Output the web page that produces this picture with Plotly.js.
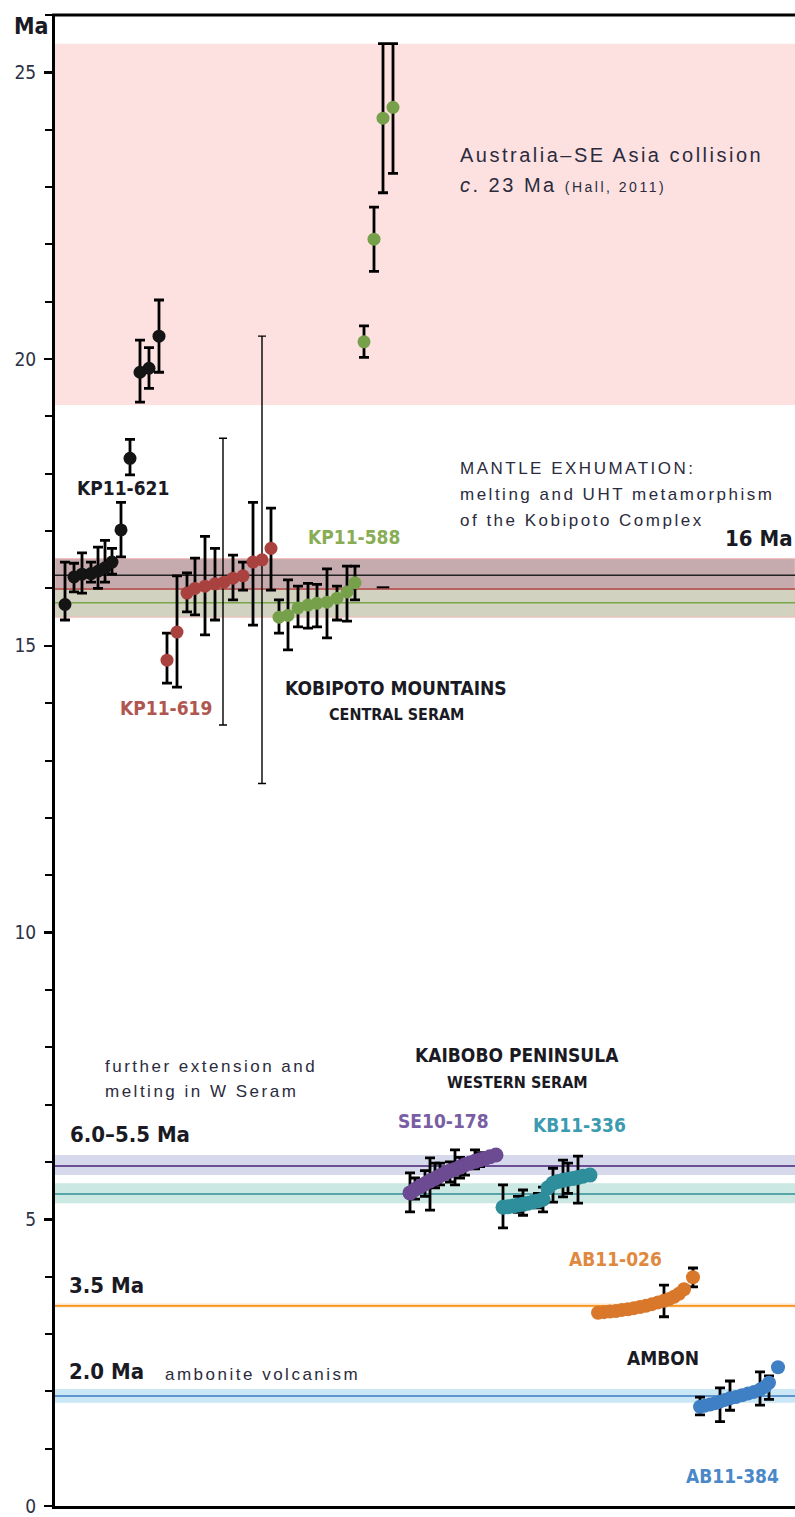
<!DOCTYPE html>
<html>
<head>
<meta charset="utf-8">
<script src="https://cdn.plot.ly/plotly-3.0.1.min.js"></script>
<style>
html,body{margin:0;padding:0;background:#fff;overflow:hidden}
#chart{width:795px;height:1517px}
</style>
</head>
<body>
<div id="chart"></div>
<script>
// ---------------- DATA ----------------
// x = analysis position along the (unlabelled) horizontal axis, y = age in Ma
// KP11-621 (black)
const kp621_pos = [10, 19, 27, 36, 43, 50, 57, 66, 75, 85, 94, 104];
const kp621_age = [15.72, 16.20, 16.25, 16.26, 16.30, 16.36, 16.46, 17.02, 18.27, 19.77, 19.84, 20.40];
const kp621_hi  = [16.46, 16.44, 16.62, 16.46, 16.72, 16.84, 16.70, 17.50, 18.60, 20.33, 20.20, 21.03];
const kp621_lo  = [15.45, 15.94, 15.92, 16.11, 16.00, 16.11, 16.25, 16.55, 17.98, 19.25, 19.49, 19.77];

// KP11-619 (red)
const kp619_pos = [112, 122, 132, 140, 150, 160, 169, 178, 188, 198, 207, 216];
const kp619_age = [14.75, 15.24, 15.92, 16.00, 16.04, 16.08, 16.11, 16.18, 16.22, 16.46, 16.50, 16.70];
const kp619_hi  = [15.22, 16.22, 16.27, 16.53, 16.91, 16.70, null, 16.58, 16.46, 17.50, null, 17.40];
const kp619_lo  = [14.35, 14.28, 15.59, 15.54, 15.19, 15.45, null, 15.80, 15.97, 15.36, null, 15.97];
// KP11-619 analyses with very large uncertainties (thin bars)
const kp619w_pos = [168, 207];
const kp619w_age = [16.11, 16.50];
const kp619w_hi  = [18.62, 20.40];
const kp619w_lo  = [13.62, 12.60];

// KP11-588 (green)
const kp588_pos = [224, 233, 243, 253, 262, 272, 282, 292, 300, 309, 319, 328, 338];
const kp588_age = [15.50, 15.53, 15.66, 15.71, 15.74, 15.76, 15.83, 15.94, 16.10, 20.30, 22.09, 24.20, 24.39];
const kp588_hi  = [15.80, 16.15, 16.04, 16.09, 16.07, 16.34, 16.04, 16.39, 16.39, 20.58, 22.65, 25.50, 25.50];
const kp588_lo  = [15.22, 14.93, 15.33, 15.31, 15.33, 15.14, 15.45, 15.43, 15.80, 20.03, 21.53, 22.90, 23.24];

// isolated tick mark
const stray_pos = [328];
const stray_age = [16.02];

// SE10-178 (purple)
const se178_pos = [355, 360, 365, 370, 375, 380, 385, 390, 395, 400, 405, 410, 415, 420, 425, 430, 435, 441];
const se178_age = [5.46, 5.52, 5.57, 5.62, 5.67, 5.71, 5.76, 5.80, 5.84, 5.87, 5.91, 5.95, 5.98, 6.01, 6.04, 6.06, 6.09, 6.12];
const se178_hi  = [5.81, 5.72, null, 5.85, 6.07, 5.98, 5.98, null, 6.00, 6.21, 6.08, 6.05, null, 6.21, 6.16, null, null, null];
const se178_lo  = [5.13, 5.35, null, 5.40, 5.16, 5.55, 5.60, null, 5.65, 5.60, 5.72, 5.77, null, 5.88, 5.92, null, null, null];

// KB11-336 (teal)
const kb336_pos = [448, 453, 458, 463, 468, 473, 478, 483, 488, 493, 498, 503, 508, 513, 518, 523, 528, 535];
const kb336_age = [5.21, 5.22, 5.23, 5.25, 5.26, 5.28, 5.30, 5.32, 5.35, 5.55, 5.63, 5.66, 5.68, 5.70, 5.71, 5.73, 5.75, 5.77];
const kb336_hi  = [5.60, null, null, 5.40, 5.51, null, null, 5.45, 5.56, null, 5.89, null, 6.03, 5.98, null, 6.10, null, null];
const kb336_lo  = [4.85, null, null, 5.12, 5.07, null, null, 5.20, 5.13, null, 5.30, null, 5.39, 5.45, null, 5.28, null, null];

// AB11-026 (orange)
const ab026_pos = [543, 549, 555, 561, 567, 573, 579, 585, 591, 597, 603, 609, 614, 619, 624, 629, 638];
const ab026_age = [3.37, 3.38, 3.39, 3.40, 3.42, 3.43, 3.45, 3.47, 3.49, 3.52, 3.55, 3.58, 3.61, 3.65, 3.70, 3.78, 3.99];
const ab026_hi  = [null, null, null, null, null, null, null, null, null, null, null, 3.85, null, null, null, null, 4.15];
const ab026_lo  = [null, null, null, null, null, null, null, null, null, null, null, 3.30, null, null, null, null, 3.82];

// AB11-384 (blue)
const ab384_pos = [645, 650, 655, 660, 665, 670, 675, 681, 687, 693, 699, 705, 710, 714, 723];
const ab384_age = [1.73, 1.75, 1.77, 1.79, 1.82, 1.85, 1.88, 1.90, 1.93, 1.96, 1.99, 2.03, 2.08, 2.15, 2.42];
const ab384_hi  = [1.90, null, null, null, 2.06, null, 2.18, null, null, null, null, 2.34, null, 2.27, null];
const ab384_lo  = [1.59, null, null, null, 1.47, null, 1.67, null, null, null, null, 1.76, null, 1.86, null];

// Interpreted event ages (Ma)
const bandNames   = ['collision', 'KP11-621', 'KP11-619/588', 'SE10-178', 'KB11-336', 'AB11-026', 'AB11-384'];
const bandLow     = [19.2, 16.0, 15.5, 5.77, 5.28, 3.46, 1.80];
const bandHigh    = [25.5, 16.52, 16.0, 6.12, 5.63, 3.53, 2.04];
const meanAgeName = ['KP11-621', 'KP11-619', 'KP11-588', 'SE10-178', 'KB11-336', 'AB11-026', 'AB11-384'];
const meanAge     = [16.23, 15.99, 15.75, 5.93, 5.44, 3.49, 1.92];

// axis ticks
const yTickVals = [0, 5, 10, 15, 20, 25];
const yTickText = ['0', '5', '10', '15', '20', '25'];

// ---------------- STYLE ----------------
const bandFill  = ['#fde1e1', '#c6abae', '#d2d2c0', '#d6d9eb', '#cbe9e2', '#fde3c8', '#c9e7f5'];
const meanColor = ['#222222', '#b03c3c', '#7aa64a', '#6b4f93', '#2f8f96', '#f7941d', '#3d7bbf'];
const meanWidth = [1.5, 1.5, 1.5, 2, 1.5, 1.8, 1.5];

const COND = '"Liberation Sans Narrow", "Arial Narrow", "DejaVu Sans Condensed", "Liberation Sans", Arial, sans-serif';
const REG  = '"Liberation Sans", Arial, sans-serif';

function errs(age, hi, lo) {
  return {
    type: 'data', symmetric: false,
    array: age.map((a, i) => hi[i] == null ? NaN : hi[i] - a),
    arrayminus: age.map((a, i) => lo[i] == null ? NaN : a - lo[i]),
    color: '#000', thickness: 2.8, width: 5
  };
}
function series(pos, age, hi, lo, color, size) {
  return {
    type: 'scatter', mode: 'markers', x: pos, y: age,
    marker: {color: color, size: size, line: {width: 0}},
    error_y: errs(age, hi, lo), hoverinfo: 'y', cliponaxis: false
  };
}

const traces = [
  {
    type: 'scatter', mode: 'markers', x: kp619w_pos, y: kp619w_age,
    marker: {color: '#a9423f', size: 1, opacity: 0},
    error_y: {type: 'data', symmetric: false,
      array: kp619w_age.map((a, i) => kp619w_hi[i] - a),
      arrayminus: kp619w_age.map((a, i) => a - kp619w_lo[i]),
      color: '#000', thickness: 1.4, width: 4},
    hoverinfo: 'skip'
  },
  series(kp621_pos, kp621_age, kp621_hi, kp621_lo, '#141414', 13),
  series(kp619_pos, kp619_age, kp619_hi, kp619_lo, '#a9423f', 13),
  series(kp588_pos, kp588_age, kp588_hi, kp588_lo, '#76a04a', 13),
  {
    type: 'scatter', mode: 'markers', x: stray_pos, y: stray_age,
    marker: {symbol: 'line-ew', size: 9, line: {width: 2, color: '#000'}}, hoverinfo: 'skip'
  },
  series(se178_pos, se178_age, se178_hi, se178_lo, '#6c4b93', 15),
  series(kb336_pos, kb336_age, kb336_hi, kb336_lo, '#2e8e9c', 15),
  series(ab026_pos, ab026_age, ab026_hi, ab026_lo, '#d9772a', 14),
  series(ab384_pos, ab384_age, ab384_hi, ab384_lo, '#3f7fc4', 14)
];

// bands and mean-age lines
const shapes = [];
bandNames.forEach((n, i) => {
  shapes.push({type: 'rect', xref: 'paper', x0: 0, x1: 1, yref: 'y', y0: bandLow[i], y1: bandHigh[i],
    fillcolor: bandFill[i], line: {width: 0}, layer: 'below'});
});
// pink outline around Kobipoto band
shapes.push({type: 'rect', xref: 'paper', x0: 0, x1: 1, yref: 'y', y0: bandLow[2], y1: bandHigh[1],
  fillcolor: 'rgba(0,0,0,0)', line: {width: 1, color: '#f3b9b9'}, layer: 'below'});
meanAgeName.forEach((n, i) => {
  shapes.push({type: 'line', xref: 'paper', x0: 0, x1: 1, yref: 'y', y0: meanAge[i], y1: meanAge[i],
    line: {width: meanWidth[i], color: meanColor[i]}, layer: 'below'});
});
// top frame line
shapes.push({type: 'line', xref: 'paper', x0: -0.004, x1: 1, yref: 'paper', y0: 1, y1: 1,
  line: {width: 3, color: '#000'}, layer: 'above'});

// ---------------- TEXT ----------------
const annotations = [];
const tracked = [];
function txt(text, x, y, opt) {
  opt = opt || {};
  const a = {
    text: text, x: x, y: y, xref: opt.xref || 'x', yref: 'y',
    xanchor: opt.xanchor || 'left', yanchor: 'middle', showarrow: false,
    align: opt.align || 'left',
    font: {family: opt.family || COND, size: opt.size || 18, color: opt.color || '#1a1a24',
           weight: opt.weight || 'bold'}
  };
  if (opt.tracked) tracked.push(annotations.length);
  annotations.push(a);
}
const DESC = '#2b2b3d';
const descOpt = (sz) => ({family: REG, size: sz, weight: 'normal', color: DESC, tracked: true});
txt('Ma', -0.058, 25.80, {xref: 'paper', size: 23});
txt('Australia–SE Asia collision', 403, 23.56, descOpt(20));
txt('<i>c</i>. 23 Ma <span style="font-size:14px">(Hall, 2011)</span>', 403, 23.03, descOpt(20));
txt('MANTLE EXHUMATION:', 403, 18.10, descOpt(17));
txt('melting and UHT metamorphism', 403, 17.63, descOpt(17));
txt('of the Kobipoto Complex', 403, 17.18, descOpt(17));
txt('16 Ma', 739, 16.88, {xanchor: 'right', size: 22});
txt('KP11-621', 68, 17.75, {xanchor: 'center', size: 19});
txt('KP11-619', 111, 13.91, {xanchor: 'center', size: 19, color: '#b05650'});
txt('KP11-588', 299, 16.90, {xanchor: 'center', size: 19, color: '#89ad55'});
txt('KOBIPOTO MOUNTAINS', 341, 14.26, {xanchor: 'center', size: 19});
txt('CENTRAL SERAM', 341, 13.81, {xanchor: 'center', size: 16});
txt('KAIBOBO PENINSULA', 462, 7.86, {xanchor: 'center', size: 19});
txt('WESTERN SERAM', 462, 7.38, {xanchor: 'center', size: 16});
txt('further extension and', 48, 7.67, descOpt(17));
txt('melting in W Seram', 48, 7.22, descOpt(17));
txt('6.0–5.5 Ma', 13, 6.47, {size: 22});
txt('SE10-178', 388, 6.71, {xanchor: 'center', size: 19, color: '#7a5ea3'});
txt('KB11-336', 524, 6.64, {xanchor: 'center', size: 19, color: '#3c9bb0'});
txt('AB11-026', 560, 4.31, {xanchor: 'center', size: 19, color: '#e0893e'});
txt('3.5 Ma', 12, 3.85, {size: 22});
txt('2.0 Ma', 12, 2.35, {size: 22});
txt('ambonite volcanism', 108, 2.30, descOpt(17));
txt('AMBON', 608, 2.58, {xanchor: 'center', size: 19});
txt('AB11-384', 677, 0.52, {xanchor: 'center', size: 19, color: '#4a88c8'});

// letter-spacing for the tracked descriptive texts
const css = tracked.map(i => 'g.annotation[data-index="' + i + '"] text').join(',') + '{letter-spacing:2.5px}';
const st = document.createElement('style'); st.textContent = css; document.head.appendChild(st);

const layout = {
  width: 795, height: 1517,
  margin: {l: 55, r: 0, t: 15, b: 11, pad: 0},
  paper_bgcolor: '#fff', plot_bgcolor: '#fff',
  showlegend: false,
  xaxis: {range: [0, 740], showgrid: false, zeroline: false, showticklabels: false, ticks: '',
          showline: true, linewidth: 3, linecolor: '#000', fixedrange: true},
  yaxis: {range: [0, 26], tickmode: 'array', tickvals: yTickVals, ticktext: yTickText,
          ticks: 'outside', ticklen: 8, tickwidth: 2.5, tickcolor: '#000',
          showline: true, linewidth: 3, linecolor: '#000', showgrid: false, zeroline: false,
          ticklabelstandoff: 4,
          tickfont: {family: COND, size: 19, color: '#2c3146'},
          minor: {tickmode: 'linear', tick0: 0, dtick: 1, ticks: 'outside', ticklen: 7, tickwidth: 2,
                  tickcolor: '#000', showgrid: false},
          fixedrange: true},
  shapes: shapes,
  annotations: annotations
};

Plotly.newPlot('chart', traces, layout, {displayModeBar: false, staticPlot: true});
</script>
</body>
</html>
